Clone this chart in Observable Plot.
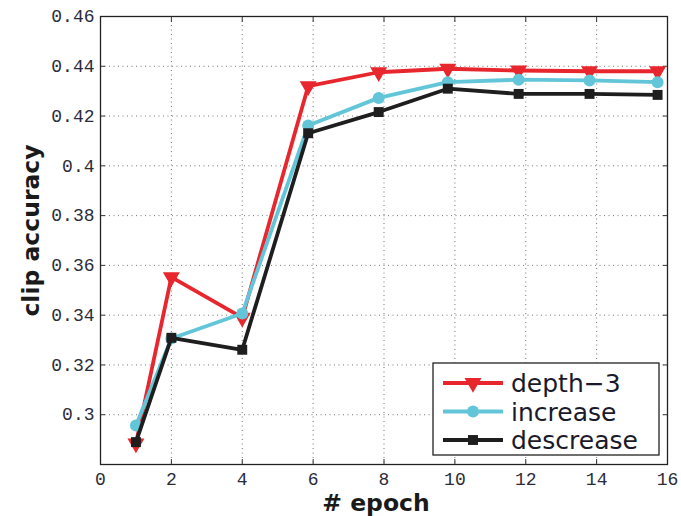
<!DOCTYPE html>
<html><head><meta charset="utf-8">
<script src="https://cdn.jsdelivr.net/npm/d3@7"></script>
<script src="https://cdn.jsdelivr.net/npm/@observablehq/plot@0.6"></script>
<style>
body{margin:0;background:#fff;}
#chart{width:681px;height:516px;}
#chart svg{display:block;background:#fff;}
</style></head><body><div id="chart"></div>
<script>
// ---- data ----
const epochs     = [1, 2, 4, 5.86, 7.85, 9.8, 11.8, 13.8, 15.72];
const depth3     = [0.2885, 0.3553, 0.339, 0.432, 0.4376, 0.439, 0.4383, 0.438, 0.438];
const increase   = [0.2957, 0.3306, 0.3407, 0.4162, 0.4273, 0.4336, 0.4346, 0.4343, 0.4336];
const descrease  = [0.289, 0.3309, 0.3261, 0.4131, 0.4216, 0.431, 0.4289, 0.4289, 0.4285];
const seriesNames  = ["depth−3", "increase", "descrease"];
const seriesColors = ["#e8262d", "#62c6d8", "#1e1e1e"];
const seriesSymbols = ["triangle", "circle", "square"];
const xTicks = [0, 2, 4, 6, 8, 10, 12, 14, 16];
const yTicks = [0.3, 0.32, 0.34, 0.36, 0.38, 0.4, 0.42, 0.44, 0.46];
const yTickLabels = ["0.3", "0.32", "0.34", "0.36", "0.38", "0.4", "0.42", "0.44", "0.46"];
const xLabel = "# epoch";
const yLabel = "clip accuracy";

const seriesValues = [depth3, increase, descrease];
const series = seriesNames.map((name, k) => ({
  name, color: seriesColors[k], symbol: seriesSymbols[k],
  rows: epochs.map((e, i) => ({epoch: e, acc: seriesValues[k][i]}))
}));

const monoFont = "Liberation Mono";
const sansFont = "DejaVu Sans";
const symR = s => s === "triangle" ? 6.3 : s === "square" ? 5.6 : 6;

const marks = [
  Plot.gridX(xTicks, {stroke: "#777", strokeOpacity: 1, strokeDasharray: "1,3.5", strokeWidth: 1}),
  Plot.gridY(yTicks, {stroke: "#777", strokeOpacity: 1, strokeDasharray: "1,3.5", strokeWidth: 1}),
  Plot.axisX(xTicks, {anchor: "bottom", tickSize: 0, tickPadding: 8, fontSize: 18, fontFamily: monoFont, fill: "#2b2b3a", label: null}),
  Plot.axisY(yTicks, {anchor: "left", tickSize: 0, tickPadding: 6, fontSize: 18, fontFamily: monoFont, fill: "#2b2b3a", label: null,
    tickFormat: d => yTickLabels[yTicks.indexOf(d)]}),
  Plot.axisX(xTicks, {anchor: "bottom", tickSize: -5, text: null, label: null, stroke: "#333"}),
  Plot.axisX(xTicks, {anchor: "top", tickSize: -5, text: null, label: null, stroke: "#333"}),
  Plot.axisY(yTicks, {anchor: "left", tickSize: -5, text: null, label: null, stroke: "#333"}),
  Plot.axisY(yTicks, {anchor: "right", tickSize: -5, text: null, label: null, stroke: "#333"}),
];
for (const s of series) {
  marks.push(Plot.line(s.rows, {x: "epoch", y: "acc", stroke: s.color, strokeWidth: 3.8}));
  marks.push(Plot.dot(s.rows, {x: "epoch", y: "acc", fill: s.color, stroke: "none", symbol: s.symbol,
    r: symR(s.symbol), rotate: s.symbol === "triangle" ? 180 : 0}));
}
marks.push(Plot.frame({stroke: "#222", strokeWidth: 1.3}));
marks.push(Plot.text([yLabel], {text: d => d, frameAnchor: "left", rotate: -90, dx: -69, dy: -10,
  textAnchor: "middle", lineAnchor: "middle",
  fontSize: 23.5, fontWeight: "bold", fontFamily: sansFont, fill: "#1a1a1a"}));
marks.push(Plot.text([xLabel], {text: d => d, frameAnchor: "bottom", dx: -8, dy: 39,
  textAnchor: "middle", lineAnchor: "middle",
  fontSize: 23.5, fontWeight: "bold", fontFamily: sansFont, fill: "#1a1a1a"}));

const chart = Plot.plot({
  width: 681, height: 516,
  marginLeft: 100, marginRight: 14, marginTop: 16, marginBottom: 52,
  x: {domain: [0, 16], axis: null},
  y: {domain: [0.28, 0.46], axis: null},
  style: {background: "#fff", overflow: "visible"},
  marks
});
document.getElementById("chart").appendChild(chart);

// ---- legend (inside the plot, lower right) ----
const svg = d3.select(chart);
const lg = svg.append("g").attr("transform", "translate(433,363)");
lg.append("rect").attr("width", 226).attr("height", 92).attr("fill", "#fff")
  .attr("stroke", "#222").attr("stroke-width", 1.3);
series.forEach((s, i) => {
  const cy = 20 + i * 28.5;
  lg.append("line").attr("x1", 10).attr("x2", 70).attr("y1", cy).attr("y2", cy)
    .attr("stroke", s.color).attr("stroke-width", 4);
  const sym = s.symbol === "triangle" ? d3.symbolTriangle : s.symbol === "square" ? d3.symbolSquare : d3.symbolCircle;
  const r = symR(s.symbol);
  lg.append("path").attr("d", d3.symbol(sym, Math.PI * r * r)())
    .attr("transform", `translate(40,${cy})` + (s.symbol === "triangle" ? " rotate(180)" : ""))
    .attr("fill", s.color);
  lg.append("text").attr("x", 78).attr("y", cy).attr("dy", "0.36em")
    .attr("text-anchor", "start")
    .attr("font-family", sansFont).attr("font-size", 25).attr("fill", "#1a1a2a")
    .text(s.name);
});
</script></body></html>
